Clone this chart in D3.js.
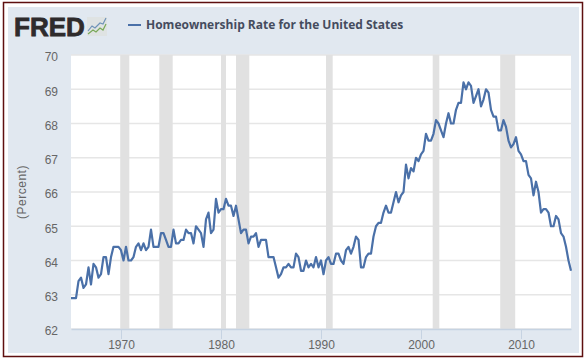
<!DOCTYPE html>
<html>
<head>
<meta charset="utf-8">
<script src="https://cdn.jsdelivr.net/npm/d3@7"></script>
<style>
    html, body { margin: 0; padding: 0; background: #fff; }
    svg { display: block; }
    text { font-family: "Liberation Sans", Arial, sans-serif; }
</style>
</head>
<body>
<svg id="chart" width="585" height="361"></svg>
<script>
const seriesName = "Homeownership Rate for the United States";
const yAxisTitle = "(Percent)";
const startYear = 1965;

// quarterly, 1965 Q1 onwards
const homeownership = [
    62.9, 62.9, 62.9, 63.4,
    63.5, 63.2, 63.3, 63.8,
    63.3, 63.9, 63.8, 63.5,
    63.6, 64.1, 64.1, 63.6,
    64.1, 64.4, 64.4, 64.4,
    64.3, 64.0, 64.4, 64.0,
    64.0, 64.1, 64.4, 64.5,
    64.3, 64.5, 64.3, 64.4,
    64.9, 64.4, 64.4, 64.4,
    64.8, 64.8, 64.6, 64.4,
    64.4, 64.9, 64.5, 64.5,
    64.6, 64.6, 64.9, 64.8,
    64.8, 64.5, 65.0, 64.9,
    64.8, 64.4, 65.2, 65.4,
    64.8, 64.9, 65.8, 65.4,
    65.5, 65.5, 65.8, 65.6,
    65.6, 65.3, 65.6, 65.2,
    64.8, 64.9, 64.9, 64.5,
    64.7, 64.7, 64.8, 64.4,
    64.6, 64.6, 64.6, 64.1,
    64.1, 64.1, 63.8, 63.5,
    63.6, 63.8, 63.8, 63.9,
    63.8, 63.8, 64.2, 64.1,
    63.7, 63.7, 64.0, 63.8,
    63.9, 63.8, 64.1, 63.8,
    64.0, 63.6, 64.0, 64.1,
    63.9, 63.9, 64.2, 64.2,
    64.0, 63.9, 64.3, 64.4,
    64.2, 64.4, 64.7, 64.6,
    63.8, 63.8, 64.1, 64.2,
    64.2, 64.7, 65.0, 65.1,
    65.1, 65.4, 65.6, 65.4,
    65.4, 65.7, 66.0, 65.7,
    65.9, 66.0, 66.8, 66.4,
    66.7, 66.6, 67.0, 66.9,
    67.1, 67.2, 67.7, 67.5,
    67.5, 67.7, 68.1, 68.0,
    67.8, 67.6, 68.0, 68.3,
    68.0, 68.0, 68.4, 68.6,
    68.6, 69.2, 69.0, 69.2,
    69.1, 68.6, 68.8, 69.0,
    68.5, 68.7, 69.0, 68.9,
    68.4, 68.2, 68.2, 67.8,
    67.8, 68.1, 67.9, 67.5,
    67.3, 67.4, 67.6, 67.2,
    67.1, 66.9, 66.9, 66.5,
    66.4, 65.9, 66.3, 66.0,
    65.4, 65.5, 65.5, 65.4,
    65.0, 65.0, 65.3, 65.2,
    64.8, 64.7, 64.4, 64.0,
    63.7
];

const recessionStarts = [1969.92, 1973.83, 1980.0, 1981.5, 1990.5, 2001.17, 2007.92];
const recessionEnds = [1970.83, 1975.17, 1980.5, 1982.83, 1991.17, 2001.83, 2009.42];

const yTicks = [62, 63, 64, 65, 66, 67, 68, 69, 70];
const xTicks = [1970, 1980, 1990, 2000, 2010];

const svg = d3.select("#chart");

// outer frame
svg.append("rect")
    .attr("x", 3.5).attr("y", 2.5)
    .attr("width", 579).attr("height", 354)
    .attr("fill", "#fff")
    .attr("stroke", "#5e0f0f")
    .attr("stroke-width", 1.5);

svg.append("rect")
    .attr("x", 8).attr("y", 7)
    .attr("width", 571).attr("height", 346)
    .attr("fill", "#e1e8f0");

const plot = { left: 71, right: 571, top: 55, bottom: 329 };

const xScale = d3.scaleLinear().domain([1965, 2015]).range([plot.left, plot.right]);
const yScale = d3.scaleLinear().domain([62, 70]).range([plot.bottom, plot.top]);

svg.append("rect")
    .attr("x", plot.left).attr("y", plot.top)
    .attr("width", plot.right - plot.left).attr("height", plot.bottom - plot.top)
    .attr("fill", "#fff");

// grid
svg.append("g").selectAll("line")
    .data(yTicks)
    .join("line")
    .attr("x1", plot.left).attr("x2", plot.right)
    .attr("y1", d => yScale(d)).attr("y2", d => yScale(d))
    .attr("stroke", "#e6e6e6")
    .attr("stroke-width", 1.5);

// recession bands
svg.append("g").selectAll("rect")
    .data(recessionStarts.map((s, i) => [s, recessionEnds[i]]))
    .join("rect")
    .attr("x", d => xScale(d[0]))
    .attr("width", d => xScale(d[1]) - xScale(d[0]))
    .attr("y", plot.top)
    .attr("height", plot.bottom - plot.top)
    .attr("fill", "#e1e1e1");

// axes
const xAxis = d3.axisBottom(xScale)
    .tickValues(xTicks)
    .tickFormat(d3.format("d"))
    .tickSize(10)
    .tickSizeOuter(0);

const xAxisG = svg.append("g")
    .attr("transform", `translate(0, ${plot.bottom})`)
    .call(xAxis);
xAxisG.select(".domain").attr("stroke", "#c6d3e2").attr("stroke-width", 1.5);
xAxisG.selectAll(".tick line").attr("stroke", "#c6d3e2");
xAxisG.selectAll(".tick text")
    .attr("fill", "#666")
    .attr("font-size", 12)
    .attr("dy", "0.71em")
    .attr("y", 11);

const yAxis = d3.axisLeft(yScale)
    .tickValues(yTicks)
    .tickFormat(d3.format("d"))
    .tickSize(0);

const yAxisG = svg.append("g")
    .attr("transform", `translate(${plot.left}, 0)`)
    .call(yAxis);
yAxisG.select(".domain").remove();
yAxisG.selectAll(".tick text")
    .attr("fill", "#666")
    .attr("font-size", 12)
    .attr("x", -13)
    .attr("y", 2);

svg.append("text")
    .attr("transform", "translate(26, 192) rotate(-90)")
    .attr("text-anchor", "middle")
    .attr("fill", "#666")
    .attr("font-size", 12)
    .attr("letter-spacing", 0.5)
    .text(yAxisTitle);

// series line
const line = d3.line()
    .x((d, i) => xScale(startYear + i / 4))
    .y(d => yScale(d));

svg.append("path")
    .datum(homeownership)
    .attr("d", line)
    .attr("fill", "none")
    .attr("stroke", "#4a70a8")
    .attr("stroke-width", 2.2)
    .attr("stroke-linejoin", "round");

// legend
svg.append("line")
    .attr("x1", 128).attr("x2", 141)
    .attr("y1", 25).attr("y2", 25)
    .attr("stroke", "#4a70a8")
    .attr("stroke-width", 2);

svg.append("text")
    .attr("x", 146).attr("y", 29)
    .attr("fill", "#454c5e")
    .attr("font-size", 12)
    .attr("font-weight", 700)
    .style("font-family", "'Open Sans'")
    .text(seriesName);

// logo
svg.append("text")
    .attr("x", 14).attr("y", 36)
    .attr("fill", "#2e2b2c")
    .attr("stroke", "#2e2b2c")
    .attr("stroke-width", 0.8)
    .attr("font-size", 26)
    .attr("font-weight", 700)
    .attr("letter-spacing", 0)
    .text("FRED");

svg.append("rect")
    .attr("x", 87).attr("y", 17)
    .attr("width", 20).attr("height", 19)
    .attr("fill", "#dfe3e3");

const logoBlue = [[88, 31], [92, 26], [95, 28], [100, 23], [103, 24], [106, 18]];
const logoGreen = [[88, 34], [93, 30], [96, 32], [100, 28], [103, 30], [106, 24]];
[[logoBlue, "#6f93b8"], [logoGreen, "#78a858"]].forEach(([pts, colour]) => {
    svg.append("path")
        .attr("d", d3.line()(pts))
        .attr("fill", "none")
        .attr("stroke", colour)
        .attr("stroke-width", 1.2);
});
</script>
</body>
</html>
